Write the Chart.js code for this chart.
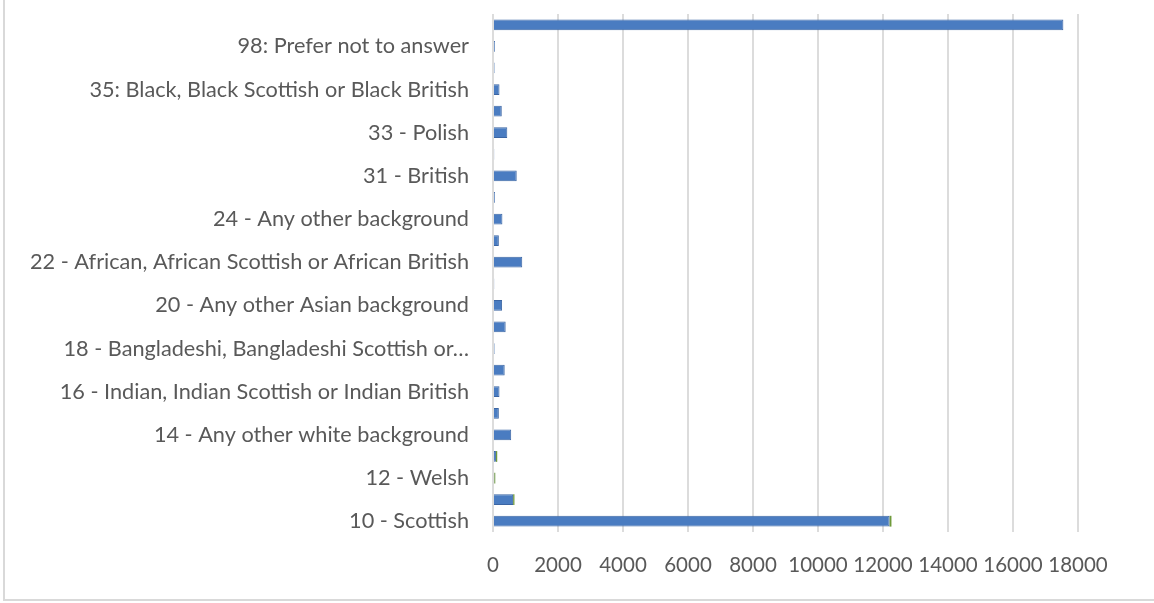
<!DOCTYPE html>
<html lang="en">

<head>
  <meta charset="UTF-8" />
  <title>Ethnic background</title>
  <script src="https://cdn.jsdelivr.net/npm/chart.js"></script>
  <style>
    html, body { margin: 0; padding: 0; background: #fff; overflow: hidden; }
    .frame {
      position: absolute;
      left: 3px; top: -2px;
      width: 1160px; height: 603px;
      border: 2px solid #d9d9d9;
      box-sizing: border-box;
    }
    .chart-box { position: absolute; left: 0; top: 0; width: 1154px; height: 603px; }
  </style>
</head>

<body>
  <div class="frame"></div>
  <div class="chart-box">
    <canvas id="ethnicityChart"></canvas>
  </div>

  <script>
    // categories, bottom to top
    const categories = [
      '10 - Scottish',
      '11 - English',
      '12 - Welsh',
      '13 - Northern Irish',
      '14 - Any other white background',
      '15 - Mixed or multiple ethnic groups',
      '16 - Indian, Indian Scottish or Indian British',
      '17 - Pakistani, Pakistani Scottish or Pakistani British',
      '18 - Bangladeshi, Bangladeshi Scottish or Bangladeshi British',
      '19 - Chinese, Chinese Scottish or Chinese British',
      '20 - Any other Asian background',
      '21 - Any other mixed background',
      '22 - African, African Scottish or African British',
      '23 - Any other African background',
      '24 - Any other background',
      '30 - Irish',
      '31 - British',
      '32 - Gypsy / Traveller',
      '33 - Polish',
      '34 - Caribbean, Caribbean Scottish or Caribbean British',
      '35: Black, Black Scottish or Black British',
      '36: Arab, Arab Scottish or Arab British',
      '98: Prefer not to answer',
      '(blank)'
    ];

    const mainCounts = [
      12200, 620, 40, 90, 560, 180, 200, 360, 50, 390,
      280, 40, 900, 180, 290, 60, 730, 40, 440, 270,
      200, 50, 60, 17550
    ];

    const otherCounts = [
      60, 40, 30, 40, 0, 0, 0, 0, 0, 0,
      0, 0, 0, 0, 0, 0, 0, 0, 0, 0,
      0, 0, 0, 0
    ];

    const xTicks = [0, 2000, 4000, 6000, 8000, 10000, 12000, 14000, 16000, 18000];

    function shortLabel(text) {
      if (text.length <= 50) return text;
      let cut = text.slice(0, 42);
      cut = cut.slice(0, cut.lastIndexOf(' '));
      return cut + '…';
    }

    const labelFont = { family: 'Lato, "Open Sans", sans-serif', size: 21.7 };
    const tickFont = { family: 'Lato, "Open Sans", sans-serif', size: 20.5 };

    new Chart(document.getElementById('ethnicityChart'), {
      type: 'bar',
      data: {
        labels: categories,
        datasets: [
          {
            label: 'Count',
            data: mainCounts,
            backgroundColor: '#4a7cc1',
            borderColor: '#3b65a3',
            borderWidth: 1,
            barPercentage: 0.5,
            categoryPercentage: 1
          },
          {
            label: 'Other',
            data: otherCounts,
            backgroundColor: '#6f9a3a',
            borderColor: '#5a8030',
            borderWidth: 0,
            barPercentage: 0.5,
            categoryPercentage: 1
          }
        ]
      },
      options: {
        indexAxis: 'y',
        responsive: true,
        maintainAspectRatio: false,
        animation: false,
        layout: { padding: { top: 14, right: 76, bottom: 26, left: 0 } },
        plugins: {
          legend: { display: false },
          tooltip: { enabled: false }
        },
        scales: {
          x: {
            stacked: true,
            min: 0,
            max: 18000,
            afterBuildTicks: s => { s.ticks = xTicks.map(v => ({ value: v })); },
            grid: { color: '#dcdcdc', lineWidth: 2, drawTicks: false },
            border: { display: false },
            ticks: {
              autoSkip: false,
              color: '#595959',
              font: tickFont,
              padding: 21,
              maxRotation: 0,
              minRotation: 0,
              callback: v => String(v)
            },
            afterFit: s => { s.height = 45; s.paddingLeft = 0; s.paddingRight = 0; }
          },
          y: {
            stacked: true,
            reverse: true,
            grid: { display: false, drawTicks: false },
            border: { display: false },
            ticks: {
              autoSkip: false,
              color: '#595959',
              font: labelFont,
              padding: 24,
              callback: function (val, i) {
                return i % 2 === 0 ? shortLabel(this.getLabelForValue(val)) : '';
              }
            },
            afterFit: s => { s.width = 493; s.paddingTop = 0; s.paddingBottom = 0; }
          }
        }
      }
    });
  </script>
</body>

</html>
